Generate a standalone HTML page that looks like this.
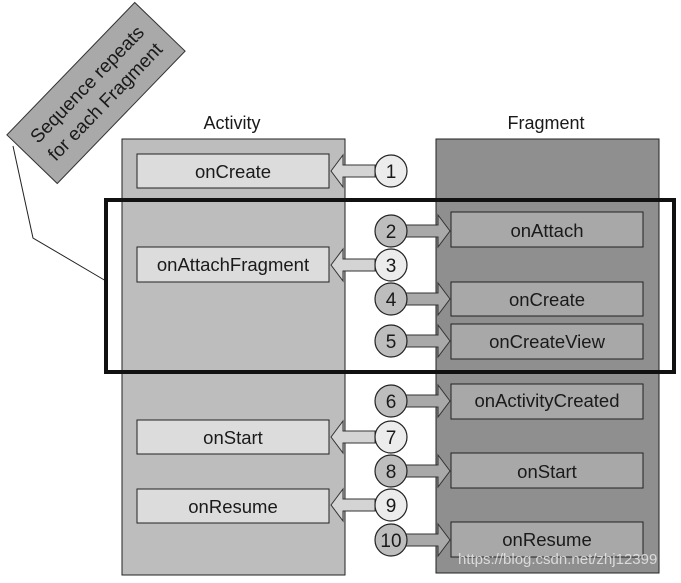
<!DOCTYPE html>
<html><head><style>
body{margin:0;background:#fff;}
svg text{font-family:"Liberation Sans",sans-serif;fill:#1a1a1a;}
</style></head><body>
<svg width="681" height="578" viewBox="0 0 681 578" xmlns="http://www.w3.org/2000/svg">
<defs>
<g id="la"><path d="M0,0 l12,-16 v10 h32 v12 h-32 v10 z" fill="#d4d4d4" stroke="#333" stroke-width="1"/></g>
<g id="ra"><path d="M0,0 l-12,-16 v10 h-32 v12 h32 v10 z" fill="#a9a9a9" stroke="#333" stroke-width="1"/></g>
</defs>
<polyline points="13,146 33,238 106,281" fill="none" stroke="#222" stroke-width="1"/>
<g transform="translate(96,93) rotate(-46)">
<rect x="-92" y="-35" width="184" height="70" fill="#a9a9a9" stroke="#333" stroke-width="1"/>
<text x="0" y="-6" font-size="19" text-anchor="middle">Sequence repeats</text>
<text x="0" y="19" font-size="19" text-anchor="middle">for each Fragment</text>
</g>
<text x="232" y="129" font-size="18" text-anchor="middle">Activity</text>
<text x="546" y="129" font-size="18" text-anchor="middle">Fragment</text>
<rect x="122" y="139" width="223" height="436" fill="#bdbdbd" stroke="#222" stroke-width="1"/>
<rect x="436" y="139" width="223" height="434" fill="#8f8f8f" stroke="#222" stroke-width="1"/>
<g fill="#dcdcdc" stroke="#222" stroke-width="1">
<rect x="137" y="154" width="192" height="34"/>
<rect x="137" y="247" width="192" height="35"/>
<rect x="137" y="420" width="192" height="34"/>
<rect x="137" y="489" width="192" height="34"/>
</g>
<g fill="#a8a8a8" stroke="#222" stroke-width="1">
<rect x="451" y="212" width="192" height="35"/>
<rect x="451" y="282" width="192" height="34"/>
<rect x="451" y="324" width="192" height="35"/>
<rect x="451" y="384" width="192" height="35"/>
<rect x="451" y="453" width="192" height="35"/>
<rect x="451" y="522" width="192" height="35"/>
</g>
<g font-size="18.5" text-anchor="middle">
<text x="233" y="178">onCreate</text>
<text x="233" y="271">onAttachFragment</text>
<text x="233" y="444">onStart</text>
<text x="233" y="513">onResume</text>
<text x="547" y="237">onAttach</text>
<text x="547" y="306">onCreate</text>
<text x="547" y="348">onCreateView</text>
<text x="547" y="407">onActivityCreated</text>
<text x="547" y="478">onStart</text>
<text x="547" y="546">onResume</text>
</g>
<use href="#la" x="331" y="171"/>
<use href="#la" x="331" y="265"/>
<use href="#la" x="331" y="437"/>
<use href="#la" x="331" y="505"/>
<use href="#ra" x="450" y="231"/>
<use href="#ra" x="450" y="299"/>
<use href="#ra" x="450" y="341"/>
<use href="#ra" x="450" y="401"/>
<use href="#ra" x="450" y="471"/>
<use href="#ra" x="450" y="540"/>
<rect x="106" y="200" width="568" height="172" fill="none" stroke="#111" stroke-width="4"/>
<g stroke="#222" stroke-width="1.2">
<circle cx="391" cy="171" r="16" fill="#ececec"/>
<circle cx="391" cy="231" r="16" fill="#bdbdbd"/>
<circle cx="391" cy="265" r="16" fill="#ececec"/>
<circle cx="391" cy="299" r="16" fill="#bdbdbd"/>
<circle cx="391" cy="341" r="16" fill="#bdbdbd"/>
<circle cx="391" cy="401" r="16" fill="#bdbdbd"/>
<circle cx="391" cy="437" r="16" fill="#ececec"/>
<circle cx="391" cy="471" r="16" fill="#bdbdbd"/>
<circle cx="391" cy="505" r="16" fill="#ececec"/>
<circle cx="391" cy="540" r="16" fill="#bdbdbd"/>
</g>
<g font-size="19" text-anchor="middle">
<text x="391" y="178">1</text>
<text x="391" y="238">2</text>
<text x="391" y="272">3</text>
<text x="391" y="306">4</text>
<text x="391" y="348">5</text>
<text x="391" y="408">6</text>
<text x="391" y="444">7</text>
<text x="391" y="478">8</text>
<text x="391" y="512">9</text>
<text x="391" y="547">10</text>
</g>
<text x="458" y="564" font-size="15" style="fill:#e8e8e8;opacity:0.85">https://blog.csdn.net/zhj12399</text>
</svg>
</body></html>
